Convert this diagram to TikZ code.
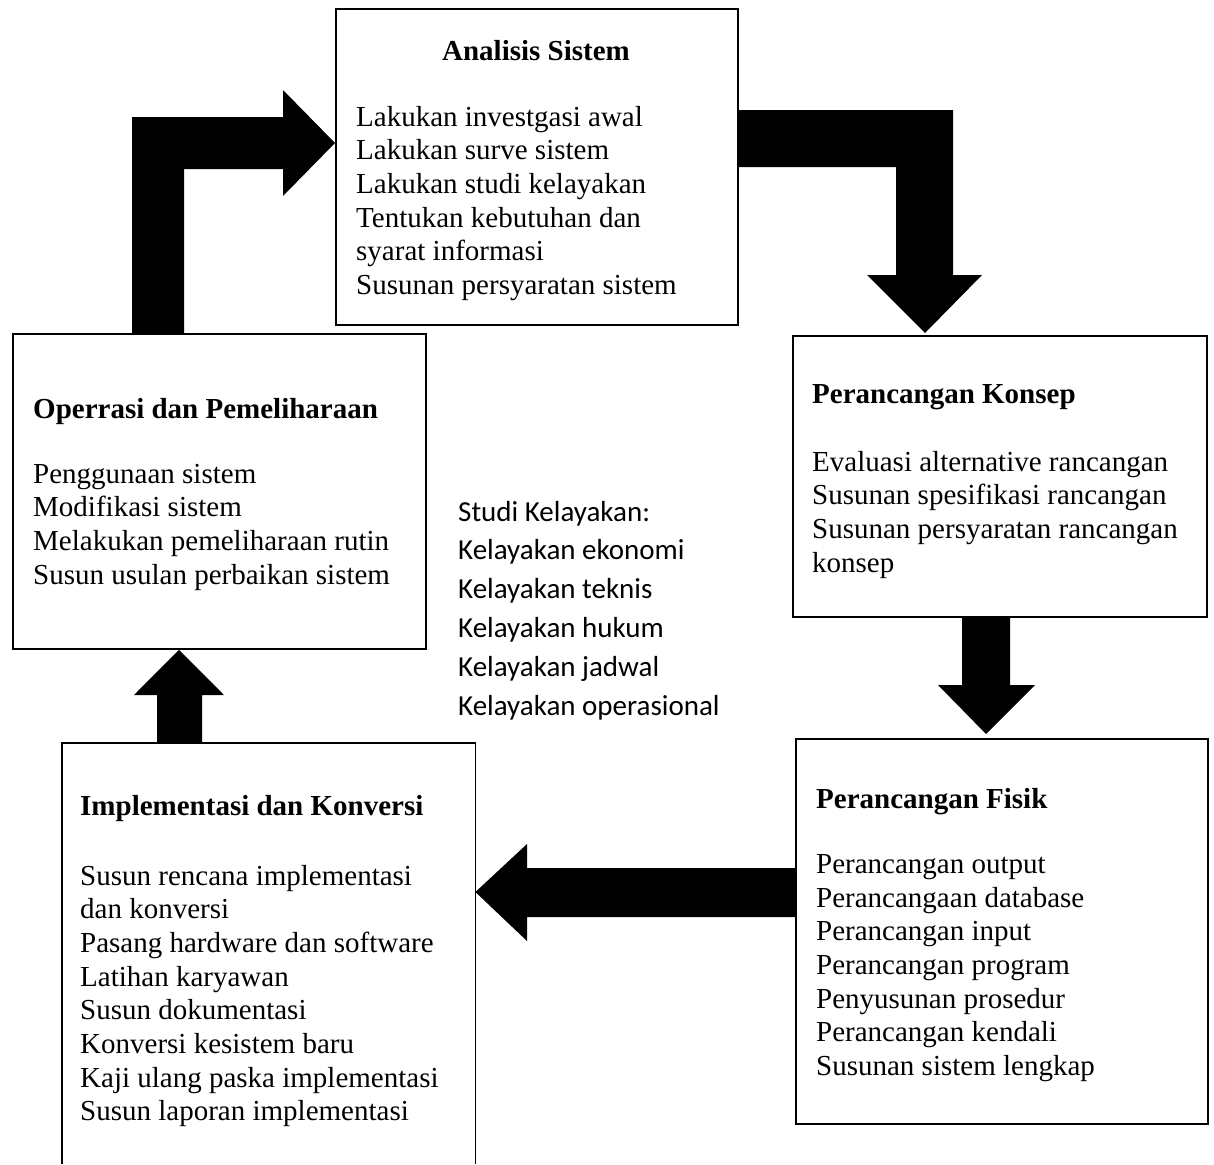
\documentclass[tikz,border=0pt]{standalone}
\usepackage{fontspec}
\setmainfont{Liberation Serif}
\newfontfamily\califont{Carlito}
\usetikzlibrary{calc}
\tikzset{
  boxnode/.style={draw, line width=1.8pt, inner sep=0pt, anchor=north west},
  txt/.style={anchor=north west, inner sep=0pt, align=left, font=\fontsize{29}{33.7}\selectfont},
  ctxt/.style={anchor=north west, inner sep=0pt, align=left, font=\califont\fontsize{29}{38.8}\selectfont},
  head/.style={anchor=base west, inner sep=0pt, font=\fontsize{29}{33.7}\selectfont\bfseries},
  blockarrow/.style={fill=black, draw=none}
}
\begin{document}
\begin{tikzpicture}[x=1pt,y=-1pt]
\useasboundingbox (0,0) rectangle (1214,1164);
\fill[white] (0,0) rectangle (1214,1164);

% boxes
\node[boxnode, minimum width=402, minimum height=316] (an) at (335,8) {};
\node[boxnode, minimum width=413, minimum height=315] (op) at (12,333) {};
\node[boxnode, minimum width=414, minimum height=281] (ko) at (792,335) {};
\node[boxnode, minimum width=412, minimum height=385] (fi) at (795,738) {};
\node[anchor=north west, inner sep=0pt, minimum width=413, minimum height=421] (im) at (62,743) {};
\draw[line width=1.8pt] (im.south west) -- (im.north west) -- (im.north east) -- (im.south east);

% headings
\node[head, anchor=base] (anh) at (536,60) {Analisis Sistem};
\node[head] (oph) at (33,418) {Operrasi dan Pemeliharaan};
\node[head] (koh) at (812,403) {Perancangan Konsep};
\node[head] (fih) at (816,808) {Perancangan Fisik};
\node[head] (imh) at (80,815) {Implementasi dan Konversi};

% bodies (first baseline = top + 23.6)
\node[txt] (ant) at (356,102.4) {\strut Lakukan investgasi awal\\Lakukan surve sistem\\Lakukan studi kelayakan\\Tentukan kebutuhan dan\\syarat informasi\\Susunan persyaratan sistem};
\node[txt] (opt) at (33,459.5) {\strut Penggunaan sistem\\Modifikasi sistem\\Melakukan pemeliharaan rutin\\Susun usulan perbaikan sistem};
\node[txt] (kot) at (812,447.5) {\strut Evaluasi alternative rancangan\\Susunan spesifikasi rancangan\\Susunan persyaratan rancangan\\konsep};
\node[txt] (fit) at (816,849.6) {\strut Perancangan output\\Perancangaan database\\Perancangan input\\Perancangan program\\Penyusunan prosedur\\Perancangan kendali\\Susunan sistem lengkap};
\node[txt] (imt) at (80,861.2) {\strut Susun rencana implementasi\\dan konversi\\Pasang hardware dan software\\Latihan karyawan\\Susun dokumentasi\\Konversi kesistem baru\\Kaji ulang paska implementasi\\Susun laporan implementasi};

% feasibility note
\node[ctxt] (sk) at (458,493.8) {\strut Studi Kelayakan:\\Kelayakan ekonomi\\Kelayakan teknis\\Kelayakan hukum\\Kelayakan jadwal\\Kelayakan operasional};

% block arrows
\fill[blockarrow] (132,0 |- op.north) -- (132,117) -- (283,117) -- (283,90)
  -- (an.west |- 0,143) -- (283,196) -- (283,169) -- (184,169) -- (184,0 |- op.north) -- cycle;
\fill[blockarrow] (an.east |- 0,110) -- (953,110) -- (953,275) -- (982,275)
  -- (925,333) -- (867,275) -- (896,275) -- (896,167) -- (an.east |- 0,167) -- cycle;
\fill[blockarrow] (962,0 |- ko.south) -- (962,685) -- (938,685) -- (986,734)
  -- (1035,685) -- (1010,685) -- (1010,0 |- ko.south) -- cycle;
\fill[blockarrow] (157,0 |- im.north) -- (157,695) -- (134,695) -- (179,0 |- op.south)
  -- (224,695) -- (202,695) -- (202,0 |- im.north) -- cycle;
\fill[blockarrow] (fi.west |- 0,868) -- (527,868) -- (527,844) -- (im.east |- 0,892)
  -- (527,941) -- (527,917) -- (fi.west |- 0,917) -- cycle;
\end{tikzpicture}
\end{document}
